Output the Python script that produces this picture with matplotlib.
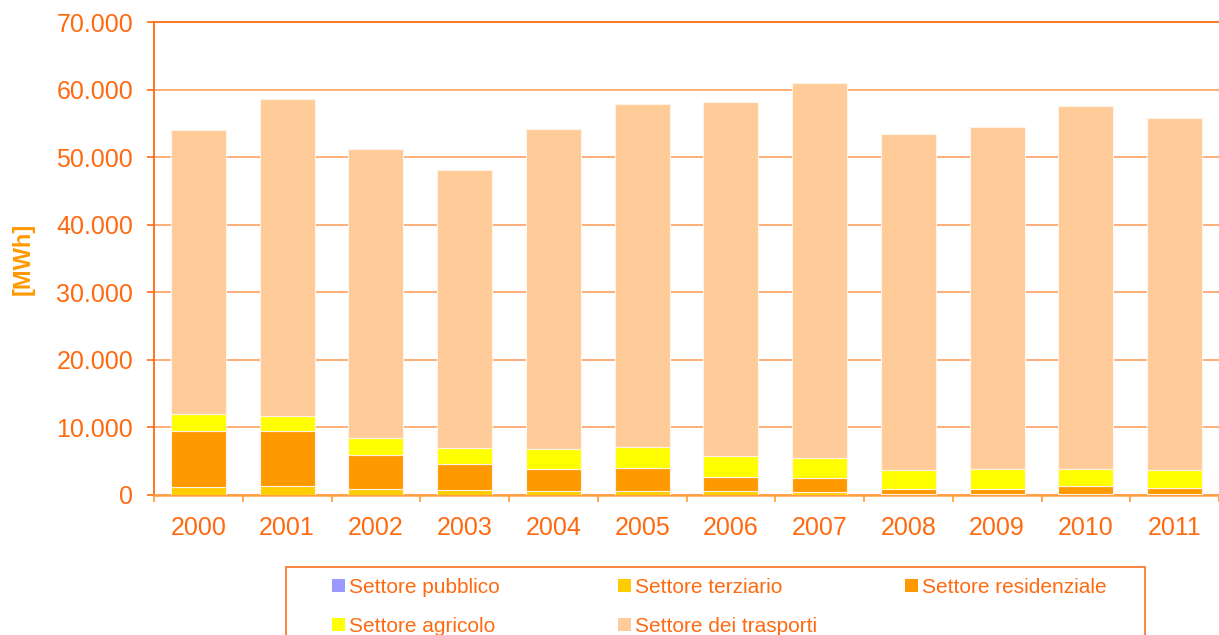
import matplotlib
matplotlib.use("Agg")
import matplotlib.pyplot as plt
import numpy as np
from matplotlib.patches import Patch, Rectangle
from matplotlib.ticker import FixedLocator, FuncFormatter

years = ["2000", "2001", "2002", "2003", "2004", "2005",
         "2006", "2007", "2008", "2009", "2010", "2011"]
pubblico = [60, 60, 50, 50, 40, 40, 40, 30, 30, 30, 30, 30]
terziario = [1160, 1310, 880, 730, 500, 500, 500, 360, 160, 160, 160, 160]
residenziale = [8190, 8130, 5040, 3870, 3280, 3470, 2050, 2060, 740, 740, 1180, 880]
agricolo = [2650, 2120, 2500, 2310, 2940, 3090, 3140, 2990, 2790, 2940, 2500, 2650]
trasporti = [41940, 46940, 42730, 41140, 47340, 50800, 52470, 55560, 49680, 50630, 53630, 52080]

series = [
    ("Settore pubblico", pubblico, "#9999FF"),
    ("Settore terziario", terziario, "#FFCC00"),
    ("Settore residenziale", residenziale, "#FF9900"),
    ("Settore agricolo", agricolo, "#FFFF00"),
    ("Settore dei trasporti", trasporti, "#FFCC99"),
]

plt.rcParams['font.family'] = ['Liberation Sans', 'DejaVu Sans']
ORANGE = "#FF6A10"
GRID = "#FFA060"

W, H = 1219, 635
fig = plt.figure(figsize=(W / 100, H / 100), dpi=100)
ax = fig.add_axes([154 / W, 1 - 495 / H, 1 - 154 / W, (495 - 22) / H])

x = np.arange(len(years))
bottom = np.zeros(len(years))
handles = {}
for name, vals, col in series:
    v = np.array(vals, dtype=float)
    ax.bar(x, v, bottom=bottom, width=0.62, color=col, edgecolor="#FFF2E6",
           linewidth=0.8, zorder=3)
    handles[name] = Patch(facecolor=col, edgecolor="none")
    bottom += v

ax.set_xlim(-0.5, len(years) - 0.5)
ax.set_ylim(0, 70000)
ax.yaxis.set_major_locator(FixedLocator(np.arange(0, 70001, 10000)))
ax.yaxis.set_major_formatter(FuncFormatter(lambda v, p: f"{int(v):,}".replace(",", ".")))
ax.grid(axis="y", color=GRID, linewidth=1.2, zorder=0)
ax.set_axisbelow(True)

ax.set_xticks(x)
ax.set_xticklabels(years)
ax.xaxis.set_minor_locator(FixedLocator(np.arange(-0.5, len(years), 1.0)))
ax.tick_params(axis="x", which="major", length=0, pad=15, labelsize=18, labelcolor=ORANGE)
ax.tick_params(axis="x", which="minor", length=5, width=1.2, color="#FF9933", direction="out")
ax.tick_params(axis="y", length=5, width=1.2, color=ORANGE, direction="out", pad=10,
               labelsize=18, labelcolor=ORANGE)

ax.spines["right"].set_visible(False)
ax.spines["left"].set_color(ORANGE)
ax.spines["left"].set_linewidth(1.3)
ax.spines["top"].set_color("#FF7020")
ax.spines["top"].set_linewidth(1.3)
ax.spines["bottom"].set_color("#FFA040")
ax.spines["bottom"].set_linewidth(1.8)

ax.set_ylabel("[MWh]", fontsize=17, fontweight="bold", color="#FF9900")
ax.yaxis.set_label_coords(-0.112, 0.5)

# legend frame
fig.patches.append(Rectangle((286 / W, -0.05), (1145 - 286) / W, (1 - 567 / H) + 0.05,
                             transform=fig.transFigure, fill=False,
                             edgecolor="#FF7020", linewidth=1.2))

columns = [
    (["Settore pubblico", "Settore agricolo"], 332),
    (["Settore terziario", "Settore dei trasporti"], 618),
    (["Settore residenziale"], 905),
]
for names, px in columns:
    leg = fig.legend([handles[n] for n in names], names, ncol=1,
                     loc="upper left", bbox_to_anchor=(px / W, 1 - 578 / H),
                     frameon=False, fontsize=15, handlelength=0.6, handleheight=0.6,
                     handletextpad=0.2, borderpad=0, labelspacing=0.95,
                     borderaxespad=0)
    for t in leg.get_texts():
        t.set_color(ORANGE)

fig.savefig("out.png", dpi=100)
